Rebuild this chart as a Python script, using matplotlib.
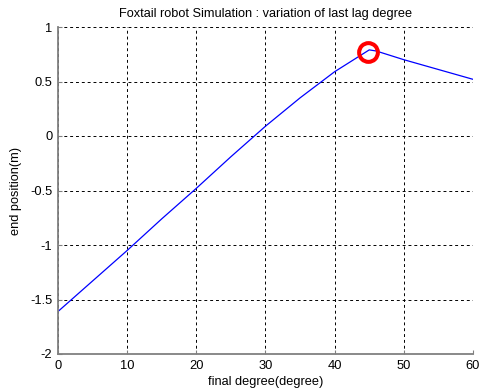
import numpy as np
import matplotlib
matplotlib.use("Agg")
from matplotlib import pyplot as plt

# final degree vs end position
degree = [0, 5, 10, 15, 20, 25, 30, 35, 37.5, 40, 42.5, 45, 46, 50, 55, 60]
position = [-1.61, -1.33, -1.05, -0.76, -0.48, -0.19, 0.09, 0.35, 0.47, 0.59, 0.69, 0.79, 0.78, 0.70, 0.61, 0.52]

# the marked peak
peak_x = [44.8]
peak_y = [0.775]

xticks = [0, 10, 20, 30, 40, 50, 60]
yticks = [-2, -1.5, -1, -0.5, 0, 0.5, 1]

plt.rcParams['font.family'] = ['Liberation Sans', 'DejaVu Sans']
plt.rcParams['axes.unicode_minus'] = False

fig = plt.figure(figsize=(4.81, 3.90), dpi=100)
fig.set_facecolor("white")
ax = fig.add_axes([58/481, 1 - 354/390, (473 - 58)/481, (354 - 27)/390])

ax.plot(degree, position, color="#0000ff", linewidth=0.9)
ax.plot(peak_x, peak_y, marker="o", markersize=13.5, markerfacecolor="none",
        markeredgecolor="#ff0000", markeredgewidth=2.9, linestyle="none")

ax.set_xlim(0, 60)
ax.set_ylim(-2, 1)
ax.set_xticks(xticks)
ax.set_yticks(yticks)
ax.set_yticklabels(["-2", "-1.5", "-1", "-0.5", "0", "0.5", "1"])

ax.grid(True, color="black", linestyle=(0, (3, 3)), linewidth=0.7)

# matlab look: box off, gray axis lines
for side in ["top", "right"]:
    ax.spines[side].set_visible(False)
for side in ["left", "bottom"]:
    ax.spines[side].set_color("#808080")
    ax.spines[side].set_linewidth(1.3)

ax.tick_params(direction="in", length=3, color="#808080", labelsize=9.3, pad=4)

ax.set_title("Foxtail robot Simulation : variation of last lag degree", fontsize=9.2, pad=7)
ax.set_xlabel("final degree(degree)", fontsize=9.2, labelpad=3)
ax.set_ylabel("end position(m)", fontsize=9.2, labelpad=6)

fig.savefig("out.png", dpi=100)
